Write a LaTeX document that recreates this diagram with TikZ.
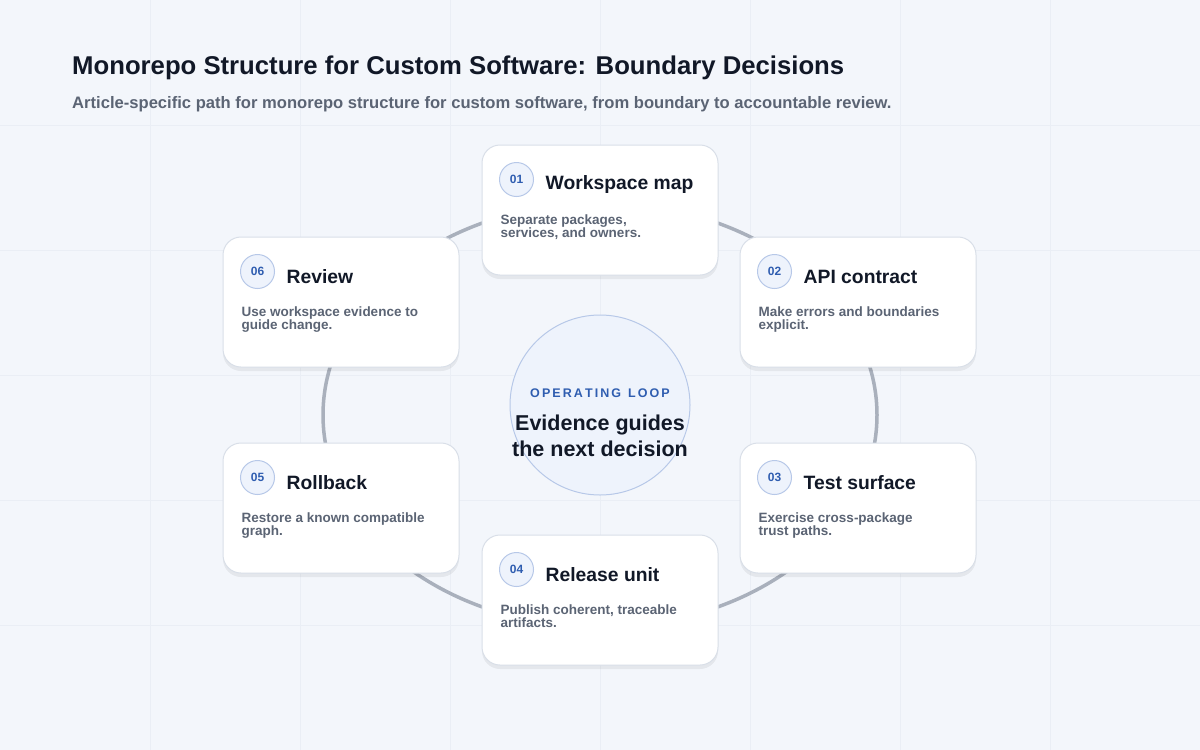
\documentclass[tikz,border=0pt]{standalone}
\usepackage{fontspec}
\setmainfont{Liberation Sans}
\usetikzlibrary{shadows,positioning}
\definecolor{bgcol}{HTML}{F3F6FB}
\definecolor{gridcol}{HTML}{EAEEF5}
\definecolor{ringcol}{HTML}{A9B0BC}
\definecolor{cardline}{HTML}{D9DFE8}
\definecolor{inkcol}{HTML}{111827}
\definecolor{subcol}{HTML}{5B6474}
\definecolor{accent}{HTML}{2F5DB0}
\definecolor{badgefill}{HTML}{EEF3FC}
\definecolor{badgeline}{HTML}{B7C8E8}
\tikzset{
  card/.style={draw=cardline,line width=1pt,fill=white,rounded corners=18pt,minimum width=236pt,minimum height=130pt,inner sep=0pt,
    drop shadow={shadow xshift=0pt,shadow yshift=-4pt,opacity=0.06,fill=black}},
  badge/.style={circle,draw=badgeline,line width=1pt,fill=badgefill,minimum size=34pt,inner sep=0pt,text=accent,font=\fontsize{12}{12}\selectfont\bfseries},
  ctitle/.style={anchor=west,text=inkcol,font=\fontsize{19.3}{20}\selectfont\bfseries,inner sep=0pt},
  cdesc/.style={anchor=north west,text=subcol,align=left,font=\fontsize{13.5}{13.5}\selectfont\bfseries,inner sep=0pt}
}
\begin{document}
\begin{tikzpicture}[x=1pt,y=-1pt]
\fill[bgcol] (0,0) rectangle (1200,750);
\useasboundingbox (0,0) rectangle (1200,750);
\foreach \gx in {150,300,...,1050} \draw[gridcol,line width=0.6pt] (\gx,0) -- (\gx,750);
\foreach \gy in {125,250,...,625} \draw[gridcol,line width=0.6pt] (0,\gy) -- (1200,\gy);
\node[anchor=west,inner sep=0pt,text=inkcol,font=\fontsize{25.7}{27}\selectfont\bfseries] (title) at (72,68) {Monorepo Structure for Custom Software: Boundary Decisions};
\node[anchor=west,inner sep=0pt,text=subcol,font=\fontsize{16.6}{18}\selectfont\bfseries] (subtitle) at (72,104) {Article-specific path for monorepo structure for custom software, from boundary to accountable review.};
\draw[ringcol,line width=3.5pt] (600,415) ellipse [x radius=277,y radius=212];
\node[circle,draw=badgeline,line width=1pt,fill=badgefill,minimum size=180pt] (hub) at (600,405) {};
\node[text=accent,font=\fontsize{12.5}{13}\selectfont\bfseries,inner sep=0pt] (hublabel) at (600,393) {O\,P\,E\,R\,A\,T\,I\,N\,G\ \ L\,O\,O\,P};
\node[text=inkcol,align=center,font=\fontsize{21.5}{26.5}\selectfont\bfseries,inner sep=0pt] (hubtext) at (600,436) {Evidence guides\\the next decision};
\foreach \n/\cx/\cy/\num/\head/\desc in {
  1/600/210/01/Workspace map/{Separate packages,\\services, and owners.},
  2/858/302/02/API contract/{Make errors and boundaries\\explicit.},
  3/858/508/03/Test surface/{Exercise cross-package\\trust paths.},
  4/600/600/04/Release unit/{Publish coherent, traceable\\artifacts.},
  5/341/508/05/Rollback/{Restore a known compatible\\graph.},
  6/341/302/06/Review/{Use workspace evidence to\\guide change.}}{
  \node[card] (card\n) at (\cx,\cy) {};
  \node[badge] (badge\n) at ([xshift=35pt,yshift=-35pt]card\n.north west) {\num};
  \node[ctitle] (head\n) at ([xshift=64pt,yshift=-40pt]card\n.north west) {\head};
  \node[cdesc] (desc\n) at ([xshift=19pt,yshift=-70pt]card\n.north west) {\desc};
}
\end{tikzpicture}
\end{document}
